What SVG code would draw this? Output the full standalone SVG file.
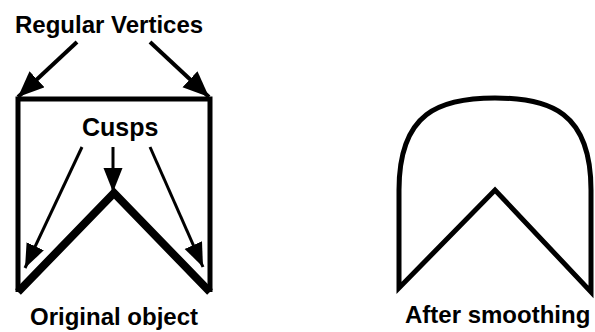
<svg xmlns="http://www.w3.org/2000/svg" width="595" height="332" viewBox="0 0 595 332">
<style>
.lbl{font-family:"Liberation Sans",Arial,sans-serif;font-weight:bold;font-size:24px;fill:#000}
.edge{stroke:#000;fill:none;stroke-linecap:butt}
.shape{stroke:#000;fill:none;stroke-linejoin:miter}
</style>
<defs>
<marker id="ah" markerUnits="userSpaceOnUse" markerWidth="26" markerHeight="22" refX="24" refY="9.5" orient="auto">
<path d="M0,0 L24,9.5 L0,19 Z" fill="#000"/>
</marker>
<marker id="ah2" markerUnits="userSpaceOnUse" markerWidth="28" markerHeight="24" refX="26" refY="11" orient="auto">
<path d="M0,0 L26,11 L0,22 Z" fill="#000"/>
</marker>
</defs>
<rect width="595" height="332" fill="#fff"/>
<g id="original">
<path class="shape" d="M18,292 L18,99 L210,99 L210,292" stroke-width="5"/>
<path class="shape" d="M18,292 L114,193 L210,292" stroke-width="8"/>
</g>
<g id="smoothed">
<path class="shape" d="M399,288 L399,190 C399,112 440,98 495,98 C550,98 591,112 591,190 L591,292 L495,190 Z" stroke-width="5"/>
</g>
<g id="labels">
<text class="lbl" x="15" y="33">Regular Vertices</text>
<text class="lbl" x="82" y="136" style="font-size:25px">Cusps</text>
<text class="lbl" x="30" y="325">Original object</text>
<text class="lbl" x="405" y="323">After smoothing</text>
</g>
<g id="connectors">
<line class="edge" x1="77" y1="42" x2="18" y2="97" stroke-width="4" marker-end="url(#ah2)"/>
<line class="edge" x1="150" y1="42" x2="209" y2="97" stroke-width="4" marker-end="url(#ah2)"/>
<line class="edge" x1="82" y1="147" x2="25" y2="268" stroke-width="3" marker-end="url(#ah)"/>
<line class="edge" x1="113" y1="147" x2="113" y2="192" stroke-width="3" marker-end="url(#ah)"/>
<line class="edge" x1="150" y1="147" x2="203" y2="267" stroke-width="3" marker-end="url(#ah)"/>
</g>
</svg>
